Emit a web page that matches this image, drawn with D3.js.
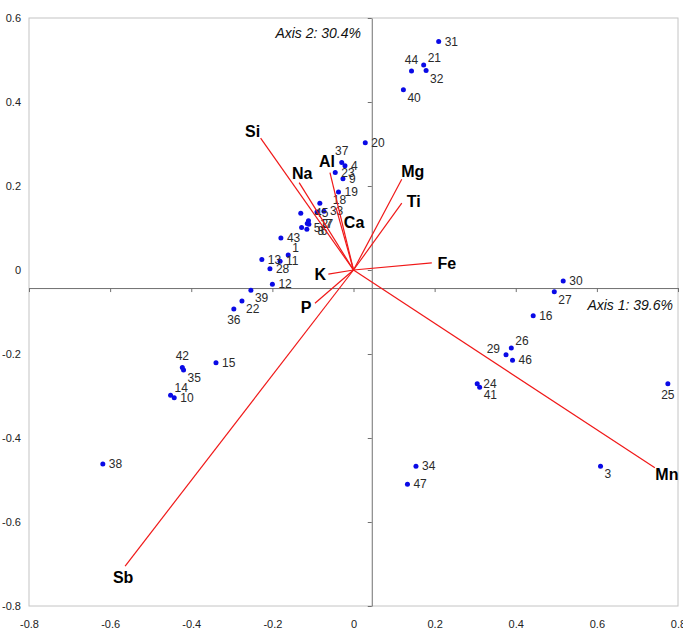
<!DOCTYPE html>
<html>
<head>
<meta charset="utf-8">
<script src="https://cdn.jsdelivr.net/npm/d3@7"></script>
<style>
  body { margin: 0; background: #fff; }
  svg { display: block; font-family: Arial, "Liberation Sans", sans-serif; }
  .tick text { font-size: 11px; fill: #222; }
  .plab { font-size: 12px; fill: #2a2a2a; }
  .vlab { font-size: 16px; font-weight: bold; fill: #000; }
  .ttl { font-size: 14px; font-style: italic; fill: #111; }
</style>
</head>
<body>
<svg width="683" height="642"></svg>
<script>
// sample scores (axis 1, axis 2)
var pointIds = [1,2,3,4,5,6,7,8,9,10,11,12,13,14,15,16,17,18,19,20,21,22,23,24,25,26,27,28,29,30,31,32,33,34,35,36,37,38,39,40,41,42,43,44,45,46,47];
var axis1 = [-0.161,-0.111,0.609,-0.021,-0.115,-0.130,-0.114,-0.128,-0.026,-0.442,-0.181,-0.200,-0.226,-0.451,-0.339,0.443,-0.110,-0.083,-0.037,0.029,0.173,-0.275,-0.045,0.305,0.775,0.389,0.495,-0.206,0.376,0.517,0.210,0.179,-0.073,0.154,-0.419,-0.295,-0.029,-0.618,-0.253,0.123,0.311,-0.422,-0.179,0.143,-0.090,0.392,0.133];
var axis2 = [0.036,0.117,-0.467,0.248,0.097,0.135,0.111,0.101,0.217,-0.304,0.021,-0.034,0.025,-0.298,-0.221,-0.109,0.109,0.159,0.186,0.303,0.488,-0.074,0.232,-0.271,-0.271,-0.186,-0.052,0.003,-0.202,-0.026,0.544,0.475,0.140,-0.467,-0.238,-0.093,0.256,-0.462,-0.048,0.429,-0.279,-0.232,0.076,0.474,0.138,-0.215,-0.510];

// element loadings
var elements = ["Si","Na","Al","Ca","Mg","Ti","Fe","K","P","Sb","Mn"];
var load1 = [-0.229,-0.134,-0.058,-0.043,0.119,0.119,0.193,-0.062,-0.095,-0.563,0.743];
var load2 = [0.314,0.208,0.232,0.148,0.216,0.159,0.017,-0.010,-0.079,-0.705,-0.471];

var xTicks = [-0.8,-0.6,-0.4,-0.2,0,0.2,0.4,0.6,0.8];
var yTicks = [-0.8,-0.6,-0.4,-0.2,0,0.2,0.4,0.6];
var axis1Title = "Axis 1: 39.6%";
var axis2Title = "Axis 2: 30.4%";

// where the two reference lines cross
var crossX = 0.045, crossY = -0.043;

// label placement (layout only)
var labelSpot = {3:'rb',1:'ra',14:'ra',21:'ra',26:'ra',27:'rb',32:'rb',35:'rb',39:'rb',40:'rb',22:'rb',
                 44:'a',37:'a',42:'a',36:'b',25:'b',41:'rb',29:'la'};
var labelNudge = {2:[13,3],7:[18,1],17:[11,0],5:[7,-1],8:[16,3],6:[20,18],18:[13,-3],45:[-2,1]};
var vecLabelOffset = {Si:[-8,-7],Na:[3,-9],Al:[-3,-11],Ca:[18,15],Mg:[11,-8],Ti:[12,-2],Fe:[15,1],K:[-8,0],P:[-9,4],Sb:[-2,11],Mn:[12,7]};

var svg = d3.select('svg');

var xScale = d3.scaleLinear().domain([-0.8,0.8]).range([29,678]);
var yScale = d3.scaleLinear().domain([-0.8,0.6]).range([606,18]);

var fmt = d => d === 0 ? "0" : d.toFixed(1);

// frame
svg.append('rect')
  .attr('x', 29).attr('y', 18)
  .attr('width', 678 - 29).attr('height', 606 - 18)
  .attr('fill', 'none').attr('stroke', '#c4c4c4');

// tick labels on the frame
var xLab = svg.append('g').attr('transform', 'translate(0,606)')
  .call(d3.axisBottom(xScale).tickValues(xTicks).tickFormat(fmt).tickSize(0).tickPadding(14));
var yLab = svg.append('g').attr('transform', 'translate(29,0)')
  .call(d3.axisLeft(yScale).tickValues(yTicks).tickFormat(fmt).tickSize(0).tickPadding(8));
[xLab, yLab].forEach(a => a.select('.domain').remove());

// crossing lines with their tick marks
var hx = svg.append('g').attr('transform', 'translate(0,' + yScale(crossY) + ')')
  .call(d3.axisBottom(xScale).tickValues(xTicks).tickFormat('').tickSize(4).tickSizeOuter(0));
var vy = svg.append('g').attr('transform', 'translate(' + xScale(crossX) + ',0)')
  .call(d3.axisLeft(yScale).tickValues(yTicks).tickFormat('').tickSize(4).tickSizeOuter(0));
[hx, vy].forEach(a => {
  a.select('.domain').attr('stroke', '#707070');
  a.selectAll('.tick line').attr('stroke', '#707070');
});

// titles
svg.append('text').attr('class', 'ttl').attr('x', 361).attr('y', 38)
  .attr('text-anchor', 'end').text(axis2Title);
svg.append('text').attr('class', 'ttl').attr('x', 673).attr('y', 310)
  .attr('text-anchor', 'end').text(axis1Title);

// samples
var pts = pointIds.map((id, i) => ({id: id, x: axis1[i], y: axis2[i]}));
var g = svg.append('g');

g.selectAll('circle').data(pts, d => d.id)
  .enter().append('circle')
  .attr('cx', d => xScale(d.x))
  .attr('cy', d => yScale(d.y))
  .attr('r', 2.5)
  .attr('fill', '#0a0ae6');

var spots = {
  r:  [6, 0, 'start'],
  ra: [4, -7, 'start'],
  rb: [4, 8, 'start'],
  a:  [0, -11, 'middle'],
  b:  [0, 11, 'middle'],
  la: [-6, -6, 'end']
};

g.selectAll('text').data(pts, d => d.id)
  .enter().append('text')
  .attr('class', 'plab')
  .attr('dominant-baseline', 'central')
  .each(function(d) {
    var o = labelNudge[d.id] ? labelNudge[d.id].concat(['start']) : spots[labelSpot[d.id] || 'r'];
    d3.select(this)
      .attr('x', xScale(d.x) + o[0])
      .attr('y', yScale(d.y) + o[1])
      .attr('text-anchor', o[2]);
  })
  .text(d => d.id);

// loading vectors
var vecs = elements.map((e, i) => ({name: e, x: load1[i], y: load2[i]}));
var v = svg.append('g');

v.selectAll('line').data(vecs)
  .enter().append('line')
  .attr('x1', xScale(0)).attr('y1', yScale(0))
  .attr('x2', d => xScale(d.x)).attr('y2', d => yScale(d.y))
  .attr('stroke', '#f01818').attr('stroke-width', 1.2);

v.selectAll('text').data(vecs)
  .enter().append('text')
  .attr('class', 'vlab')
  .attr('text-anchor', 'middle')
  .attr('dominant-baseline', 'central')
  .attr('x', d => xScale(d.x) + vecLabelOffset[d.name][0])
  .attr('y', d => yScale(d.y) + vecLabelOffset[d.name][1])
  .text(d => d.name);
</script>
</body>
</html>
